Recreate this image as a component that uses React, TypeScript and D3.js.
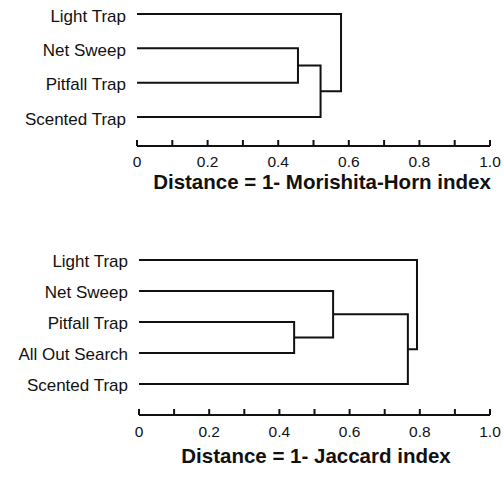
import React from 'react'
import * as d3 from 'd3'

// leaves top to bottom, merges are [childA, childB, distance] (scipy style node ids)
const topLeaves = ['Light Trap', 'Net Sweep', 'Pitfall Trap', 'Scented Trap']
const topMerges: [number, number, number][] = [
  [1, 2, 0.456],
  [4, 3, 0.52],
  [0, 5, 0.578],
]
const topTitle = 'Distance = 1- Morishita-Horn index'

const bottomLeaves = ['Light Trap', 'Net Sweep', 'Pitfall Trap', 'All Out Search', 'Scented Trap']
const bottomMerges: [number, number, number][] = [
  [2, 3, 0.442],
  [1, 5, 0.553],
  [6, 4, 0.766],
  [0, 7, 0.792],
]
const bottomTitle = 'Distance = 1- Jaccard index'

const minorTicks = d3.range(0, 1.0001, 0.1)
const tickValues = [0, 0.2, 0.4, 0.6, 0.8, 1.0]
const tickLabels = ['0', '0.2', '0.4', '0.6', '0.8', '1.0']

const FONT = '"Liberation Sans", Arial, Helvetica, sans-serif'

type PanelProps = {
  leaves: string[]
  merges: [number, number, number][]
  title: string
  xRange: [number, number]
  yRange: [number, number]
  axisY: number
  tickLabelY: number
  titleY: number
  titleX: number
  labelDy: number
}

function Dendrogram(props: PanelProps) {
  const { leaves, merges, title, xRange, yRange, axisY, tickLabelY, titleY, titleX, labelDy } = props
  const x = d3.scaleLinear().domain([0, 1]).range(xRange)
  const y = d3.scalePoint<number>().domain(d3.range(leaves.length)).range(yRange)

  const nodes: { x: number; y: number }[] = leaves.map((_, i) => ({ x: x(0), y: y(i) as number }))
  const paths: string[] = []
  merges.forEach(([a, b, h]) => {
    const na = nodes[a]
    const nb = nodes[b]
    const mx = x(h)
    const p = d3.path()
    p.moveTo(na.x, na.y)
    p.lineTo(mx, na.y)
    p.lineTo(mx, nb.y)
    p.lineTo(nb.x, nb.y)
    paths.push(p.toString())
    nodes.push({ x: mx, y: (na.y + nb.y) / 2 })
  })

  return (
    <g>
      {leaves.map((name, i) => (
        <text key={name} x={x(0) - 11} y={(y(i) as number) + labelDy} textAnchor="end"
          fontSize={17} fontFamily={FONT} fill="#111">{name}</text>
      ))}
      {paths.map((d, i) => (
        <path key={i} d={d} fill="none" stroke="#111" strokeWidth={2} />
      ))}
      <line x1={x(0)} x2={x(1)} y1={axisY} y2={axisY} stroke="#111" strokeWidth={2} />
      {minorTicks.map((t, i) => (
        <line key={i} x1={x(t)} x2={x(t)} y1={axisY} y2={axisY - 6} stroke="#111" strokeWidth={2} />
      ))}
      {tickValues.map((t, i) => (
        <text key={i} x={x(t)} y={tickLabelY} textAnchor="middle" fontSize={15.5}
          fontFamily={FONT} fill="#111">{tickLabels[i]}</text>
      ))}
      <text x={titleX} y={titleY} textAnchor="middle" fontSize={20.5} fontWeight="bold"
        fontFamily={FONT} fill="#111">{title}</text>
    </g>
  )
}

export default function App() {
  return (
    <svg width={504} height={479} style={{ position: 'absolute', left: 0, top: 0, background: '#fff' }}>
      <rect width={504} height={479} fill="#fff" />
      <Dendrogram leaves={topLeaves} merges={topMerges} title={topTitle}
        xRange={[137, 490]} yRange={[14, 117]} axisY={146} tickLabelY={166.5}
        titleY={188.5} titleX={322} labelDy={7.5} />
      <Dendrogram leaves={bottomLeaves} merges={bottomMerges} title={bottomTitle}
        xRange={[139, 490]} yRange={[260, 384]} axisY={415} tickLabelY={437}
        titleY={463} titleX={316} labelDy={6.5} />
    </svg>
  )
}
